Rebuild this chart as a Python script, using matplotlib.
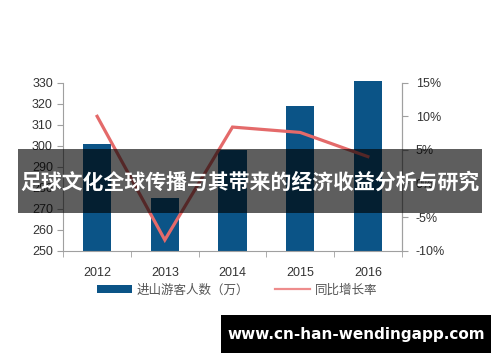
import matplotlib
matplotlib.use("Agg")
import matplotlib.pyplot as plt
from matplotlib.patches import Rectangle, Patch
from matplotlib.lines import Line2D
import numpy as np

years = ["2012", "2013", "2014", "2015", "2016"]
visitors = [301, 275, 298, 319, 331]          # 进山游客人数（万）
growth = [10.0, -8.4, 8.4, 7.6, 4.0]          # 同比增长率 %
left_ticks = [250, 260, 270, 280, 290, 300, 310, 320, 330]
right_ticks = [-10, -5, 0, 5, 10, 15]
title = "足球文化全球传播与其带来的经济收益分析与研究"
site = "www.cn-han-wendingapp.com"

BAR = "#0b5487"
LINE = "#e46a6a"
AXC = "#a0a0a0"
TXT = "#333333"
CJK = ["Noto Sans CJK SC", "DejaVu Sans"]
BASE = 250

plt.rcParams["font.family"] = ["Liberation Sans", "Noto Sans CJK SC", "DejaVu Sans"]

fig = plt.figure(figsize=(5, 3.62), dpi=100)
ax = fig.add_axes([0.1266, 0.3075, 0.6768, 0.464])
x = np.arange(len(years))
ax.bar(x, [v - BASE for v in visitors], bottom=BASE, width=0.42, color=BAR,
       zorder=2, clip_on=False)
ax.set_ylim(BASE, 330)
ax.set_xlim(-0.5, len(years) - 0.5)
ax.set_yticks(left_ticks)
ax.set_xticks(x)
ax.set_xticklabels(years)
ax.set_xticks(np.arange(-0.5, len(years)), minor=True)
ax.tick_params(axis="x", which="major", length=0, pad=12, labelsize=9, labelcolor=TXT)
ax.tick_params(axis="x", which="minor", length=4, color=AXC, direction="out")
ax.tick_params(axis="y", length=4, color=AXC, labelsize=9, labelcolor=TXT, pad=3.5)
ax.spines["top"].set_visible(False)
for s in ("left", "bottom", "right"):
    ax.spines[s].set_color(AXC)

ax2 = ax.twinx()
ax2.plot(x, growth, color=LINE, lw=2.3, zorder=3, solid_joinstyle="miter")
ax2.set_ylim(-10, 15)
ax2.set_yticks(right_ticks)
ax2.set_yticklabels([f"{v}%" for v in right_ticks])
ax2.tick_params(axis="y", length=4, color=AXC, labelsize=9, labelcolor=TXT, pad=6)
ax2.spines["top"].set_visible(False)
ax2.spines["right"].set_color(AXC)
ax2.spines["left"].set_visible(False)
ax2.spines["bottom"].set_visible(False)

handles = [Patch(facecolor=BAR, edgecolor="none"),
           Line2D([], [], color="#ee8c8c", lw=1.6)]
leg = fig.legend(handles, ["进山游客人数（万）", "同比增长率"], loc="center",
                 bbox_to_anchor=(0.474, 1 - 290 / 362), ncol=2, frameon=False,
                 handlelength=2.8, handleheight=0.6, columnspacing=2.0,
                 handletextpad=0.4, prop={"family": CJK, "size": 9})
for t in leg.get_texts():
    t.set_color("#555555")

# title banner overlay
fig.patches.append(Rectangle((18 / 500, 1 - 212.7 / 362), (481.7 - 18) / 500, 63.2 / 362,
                             transform=fig.transFigure, facecolor="black", alpha=0.63,
                             edgecolor="none", zorder=10))
fig.text(0.5, 1 - 182 / 362, title, ha="center", va="center", color="white",
         fontsize=15, fontweight="bold", family=CJK, zorder=11)

# site box
fig.patches.append(Rectangle((221 / 500, 1 - 352.7 / 362), 270 / 500, 37.7 / 362,
                             transform=fig.transFigure, facecolor="black",
                             edgecolor="none", zorder=10))
fig.text(356 / 500, 1 - 335 / 362, site, ha="center", va="center", color="white",
         fontsize=11, fontweight="bold", family=["DejaVu Sans"], zorder=11)

fig.savefig("out.png", dpi=100)
